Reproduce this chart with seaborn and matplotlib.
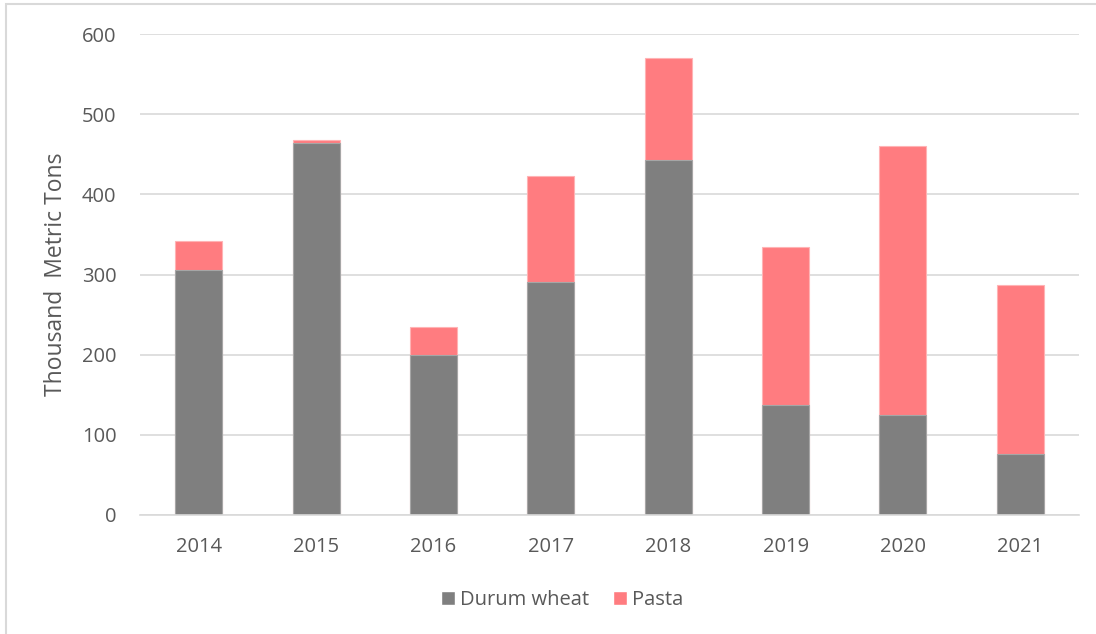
import matplotlib
matplotlib.use("Agg")
import matplotlib.pyplot as plt
import seaborn as sns
import pandas as pd
from matplotlib.patches import Rectangle, Patch

# Exports, thousand metric tons
years = ["2014", "2015", "2016", "2017", "2018", "2019", "2020", "2021"]
durum_wheat = [305, 464, 199, 291, 443, 137, 125, 76]
pasta = [37, 4, 36, 132, 127, 197, 335, 211]

y_ticks = [0, 100, 200, 300, 400, 500, 600]

GRAY = "#7F7F7F"
PINK = "#FF7C80"
TEXT = "#595959"
GRID = "#D9D9D9"

sns.set_theme(style="white")
plt.rcParams["font.family"] = ["Open Sans", "DejaVu Sans"]

df = pd.DataFrame({"year": years, "durum": durum_wheat, "pasta": pasta})
df["total"] = df["durum"] + df["pasta"]

fig = plt.figure(figsize=(10.96, 6.34), dpi=100)
ax = fig.add_axes([140 / 1096, 119 / 634, (1079 - 140) / 1096, (515 - 34) / 634])

# stacked bars: full height in pasta colour, durum wheat drawn over the lower part
sns.barplot(data=df, x="year", y="total", color=PINK, width=0.4, ax=ax,
            saturation=1, edgecolor="#FFB3B5", linewidth=0.8)
sns.barplot(data=df, x="year", y="durum", color=GRAY, width=0.4, ax=ax,
            saturation=1, edgecolor="#A6A6A6", linewidth=0.8)

ax.set_ylim(0, 600)
ax.set_xlim(-0.5, len(years) - 0.5)
ax.set_yticks(y_ticks)
ax.yaxis.grid(True, color=GRID, linewidth=1.2)
ax.set_axisbelow(True)
for s in ["left", "right", "top"]:
    ax.spines[s].set_visible(False)
ax.spines["bottom"].set_color(GRID)
ax.spines["bottom"].set_linewidth(1.2)
ax.tick_params(axis="both", length=0, colors=TEXT, labelsize=14.5)
ax.tick_params(axis="y", pad=17)
ax.tick_params(axis="x", pad=16)
ax.set_xlabel("")
ax.set_ylabel("Thousand  Metric Tons", color=TEXT, fontsize=16.5, labelpad=10)

handles = [Patch(facecolor=GRAY, label="Durum wheat"),
           Patch(facecolor=PINK, label="Pasta")]
fig.legend(handles=handles, loc="center", bbox_to_anchor=(562 / 1096, 1 - 600 / 634),
           ncol=2, frameon=False, fontsize=14.5, labelcolor=TEXT,
           handlelength=0.7, handleheight=0.7, handletextpad=0.25, columnspacing=1.2)

# chart area frame
fig.patches.append(Rectangle((6 / 1096, -0.1), 1.2, 0.1 + (634 - 4) / 634,
                             transform=fig.transFigure, fill=False,
                             edgecolor=GRID, linewidth=1.5, zorder=0))

fig.savefig("out.png", dpi=100, facecolor="white")
